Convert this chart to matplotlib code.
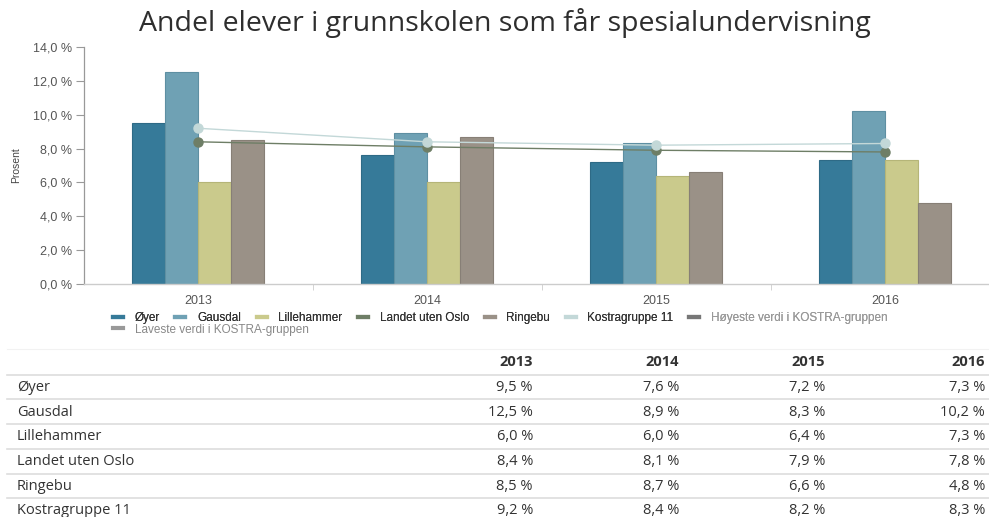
import matplotlib
matplotlib.use("Agg")
import matplotlib.pyplot as plt
from matplotlib.lines import Line2D
import numpy as np

years = ["2013", "2014", "2015", "2016"]
bar_series = ["Øyer", "Gausdal", "Lillehammer", "Ringebu"]
oyer = [9.5, 7.6, 7.2, 7.3]
gausdal = [12.5, 8.9, 8.3, 10.2]
lillehammer = [6.0, 6.0, 6.4, 7.3]
ringebu = [8.5, 8.7, 6.6, 4.8]
landet = [8.4, 8.1, 7.9, 7.8]
kostra = [9.2, 8.4, 8.2, 8.3]
yticks = [0, 2, 4, 6, 8, 10, 12, 14]
table_rows = ["Øyer", "Gausdal", "Lillehammer", "Landet uten Oslo", "Ringebu", "Kostragruppe 11"]
legend_labels = ["Øyer", "Gausdal", "Lillehammer", "Landet uten Oslo", "Ringebu",
                 "Kostragruppe 11", "Høyeste verdi i KOSTRA-gruppen", "Laveste verdi i KOSTRA-gruppen"]

c_oyer = "#367A99"
c_gaus = "#6FA1B4"
c_lille = "#CACA8C"
c_ring = "#9A9187"
c_land = "#6E7E66"
c_kost = "#C3D8D8"
c_hoy = "#777777"
c_lav = "#999999"

W, H = 989, 517
fig = plt.figure(figsize=(W / 100, H / 100), dpi=100)
fig.patch.set_facecolor("white")

def fx(px):
    return px / W

def fy(py):
    return 1 - py / H

ax = fig.add_axes([fx(83.5), fy(284), (999.5 - 83.5) / W, (284 - 47) / H])
x = np.arange(len(years))
w = 0.144
bar_data = [oyer, gausdal, lillehammer, ringebu]
bar_cols = [c_oyer, c_gaus, c_lille, c_ring]
edge_cols = ["#2E6A86", "#5E8FA2", "#B5B578", "#877F76"]
for i, (vals, col, ec) in enumerate(zip(bar_data, bar_cols, edge_cols)):
    ax.bar(x + (i - 1.5) * w, vals, width=w, color=col, edgecolor=ec, linewidth=0.8, zorder=2)

ax.plot(x, kostra, color=c_kost, lw=1.0, marker="o", ms=6.5, mec=c_kost, mfc=c_kost, zorder=4)
ax.plot(x, landet, color=c_land, lw=1.0, marker="o", ms=6.5, mec=c_land, mfc=c_land, zorder=3)

ax.set_xlim(-0.5, 3.5)
ax.set_ylim(0, 14)
ax.set_yticks(yticks)
ax.set_yticklabels([f"{v:.1f} %".replace(".", ",") for v in yticks],
                   family="Liberation Sans", fontsize=9, color="#555555")
ax.set_xticks(x)
ax.set_xticklabels(years, family="Liberation Sans", fontsize=9, color="#555555")
ax.set_xticks([0.5, 1.5, 2.5], minor=True)
ax.tick_params(axis="x", which="major", length=0, pad=8)
ax.tick_params(axis="x", which="minor", length=4, color="#CCCCCC", direction="out")
ax.tick_params(axis="y", length=6, color="#999999", pad=2)
for s in ["top", "right"]:
    ax.spines[s].set_visible(False)
ax.spines["left"].set_color("#999999")
ax.spines["left"].set_linewidth(0.9)
ax.spines["bottom"].set_color("#CCCCCC")
ax.spines["bottom"].set_linewidth(1.0)
ax.set_facecolor("white")

fig.text(fx(16), fy(165), "Prosent", rotation=90, ha="center", va="center",
         family="Liberation Sans", fontsize=7.5, color="#444444")

fig.text(fx(505), fy(23), "Andel elever i grunnskolen som får spesialundervisning",
         ha="center", va="center", family="Open Sans", fontsize=20.5,
         color="#2E2E2E")

# legend
leg_cols = [c_oyer, c_gaus, c_lille, c_land, c_ring, c_kost, c_hoy, c_lav]
handles = [Line2D([], [], color=c, lw=3) for c in leg_cols]
txt_cols = ["#333333"] * 6 + ["#999999", "#888888"]
leg_kw = dict(frameon=False, prop={"family": "Liberation Sans", "size": 8.5},
              handlelength=0.85, handletextpad=1.0, columnspacing=1.3, borderpad=0,
              borderaxespad=0)
leg1 = fig.legend(handles[:7], legend_labels[:7], loc="center left",
                  bbox_to_anchor=(fx(113), fy(318)), ncol=7, **leg_kw)
for t, c in zip(leg1.get_texts(), txt_cols[:7]):
    t.set_color(c)
leg2 = fig.legend(handles[7:], legend_labels[7:], loc="center left",
                  bbox_to_anchor=(fx(113), fy(329.5)), ncol=1, **leg_kw)
for t, c in zip(leg2.get_texts(), txt_cols[7:]):
    t.set_color(c)
fig.add_artist(leg1)

# table
col_right = [533, 679, 825, 985]
header_y = 362
row_y = [387.5, 412, 436.5, 461.5, 486, 510.5]
line_y = [374.5, 399, 424, 449, 473.5, 498]
table_vals = [oyer, gausdal, lillehammer, landet, ringebu, kostra]
fig.add_artist(Line2D([fx(7), fx(989)], [fy(349), fy(349)], color="#F2F2F2", lw=0.8))
for ly in line_y:
    fig.add_artist(Line2D([fx(7), fx(989)], [fy(ly), fy(ly)], color="#DDDDDD", lw=1.2))
for cr, yr in zip(col_right, years):
    fig.text(fx(cr), fy(header_y), yr, ha="right", va="center", family="Open Sans",
             fontsize=10.5, fontweight="bold", color="#333333")
for ry, name, vals in zip(row_y, table_rows, table_vals):
    fig.text(fx(17), fy(ry), name, ha="left", va="center", family="Open Sans",
             fontsize=10.5, color="#333333")
    for cr, v in zip(col_right, vals):
        fig.text(fx(cr), fy(ry), f"{v:.1f} %".replace(".", ","), ha="right", va="center",
                 family="Open Sans", fontsize=10.5, color="#333333")

fig.savefig("out.png", dpi=100, facecolor="white")
